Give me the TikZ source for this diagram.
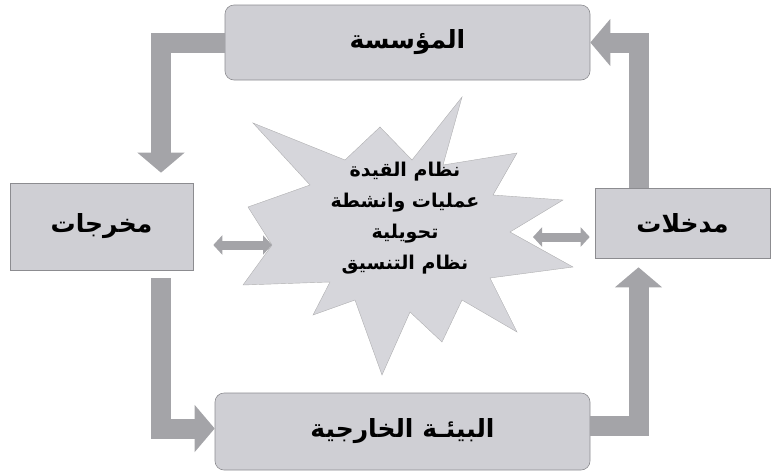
\documentclass[tikz,border=0pt]{standalone}
\usepackage{fontspec}
\newfontfamily\arabicfont[Script=Arabic]{DejaVu Sans}
\TeXXeTstate=1
\usetikzlibrary{arrows.meta,calc}
\definecolor{boxfill}{HTML}{CFCFD4}
\definecolor{boxline}{HTML}{8C8C90}
\definecolor{arrowgray}{HTML}{A4A4A8}
\definecolor{starfill}{HTML}{D6D6DB}
\begin{document}
\begin{tikzpicture}[x=1pt,y=-1pt,
  box/.style={draw=boxline, line width=0.6pt, fill=boxfill, inner sep=0pt,
    font=\arabicfont\bfseries\fontsize{25}{28}\selectfont},
  roundbox/.style={box, rounded corners=9pt},
  bigarrow/.style={draw=arrowgray, line width=20pt, -{Triangle[length=20pt,width=46pt]}},
  dblarrow/.style={draw=arrowgray, line width=9pt,
    {Triangle[length=9pt,width=19pt]}-{Triangle[length=9pt,width=19pt]}},
  startext/.style={align=center, font=\arabicfont\bfseries\fontsize{19}{31}\selectfont}
]
\useasboundingbox (0,0) rectangle (774,475);

% star
\filldraw[fill=starfill, draw=boxline!70, line width=0.4pt]
  (462,97) -- (443,165) -- (517,153) -- (493,195) -- (563,200) -- (510,232)
  -- (573,267) -- (490,278) -- (517,332) -- (462,300) -- (442,342) -- (410,312)
  -- (382,375) -- (355,300) -- (313,315) -- (330,282) -- (243,285) -- (272,245)
  -- (248,207) -- (310,185) -- (253,123) -- (345,160) -- (380,127) -- (412,160)
  -- cycle;
\node[startext] (core) at (405,218)
  {\beginR نظام القيدة\endR\\ \beginR عمليات وانشطة\endR\\ \beginR تحويلية\endR\\ \beginR نظام التنسيق\endR};

% boxes
\node[roundbox, minimum width=365pt, minimum height=75pt] (top) at (407.5,42.5) {\beginR المؤسسة\endR};
\node[roundbox, minimum width=375pt, minimum height=77pt] (env) at (402.5,431.5) {\beginR البيئـة الخارجية\endR};
\node[box, minimum width=183pt, minimum height=87pt] (out) at (101.5,226.5) {\beginR مخرجات\endR};
\node[box, minimum width=175pt, minimum height=70pt] (in) at (682.5,223) {\beginR مدخلات\endR};

% big arrows
\draw[bigarrow, shorten >=10pt] (top.west) -| ([xshift=59.5pt]out.north);
\draw[bigarrow] ([xshift=-44pt]in.north) |- (top.east);
\draw[bigarrow, shorten <=8pt] ([xshift=59.5pt]out.south) |- ([yshift=3pt]env.west);
\draw[bigarrow, shorten >=9pt] ([yshift=6pt]env.east) -| ([xshift=-44pt]in.south);

% double arrows
\coordinate (sL) at (272,245);
\coordinate (sR) at (533,237);
\draw[dblarrow, shorten <=20pt] (out.east |- sL) -- (sL);
\draw[dblarrow, shorten >=5pt] (sR) -- (in.west |- sR);
\end{tikzpicture}
\end{document}
